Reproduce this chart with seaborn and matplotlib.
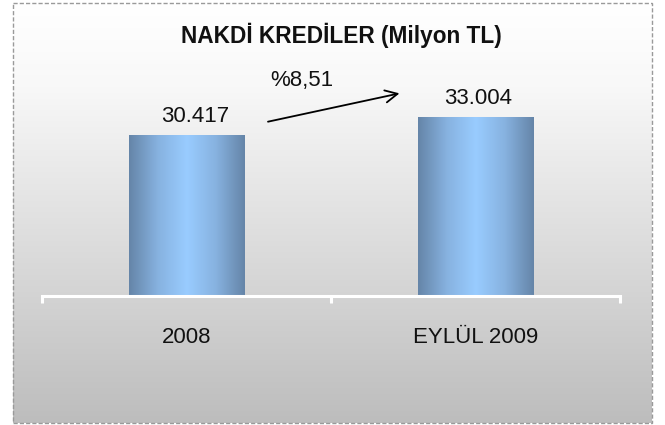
#%%
# Packages
import numpy as np
import pandas as pd
import matplotlib
matplotlib.use("Agg")
import matplotlib.pyplot as plt
import seaborn as sns
from matplotlib.colors import LinearSegmentedColormap
from matplotlib.patches import Rectangle

sns.set_style("white")
plt.rcParams['font.family'] = ['Liberation Sans', 'DejaVu Sans']

#%%
# Data
periods = ["2008", "EYLÜL 2009"]
credits = [30417, 33004]
value_labels = ["30.417", "33.004"]
growth_label = "%8,51"
title = "NAKDİ KREDİLER (Milyon TL)"

df = pd.DataFrame({"period": periods, "credit": credits})

#%%
# Figure + gradient background
fig = plt.figure(figsize=(6.65, 4.25), dpi=100)
W, H = 665, 425

bg = fig.add_axes([0, 0, 1, 1], zorder=0)
bg.set_xlim(0, W)
bg.set_ylim(H, 0)
bg.axis("off")
grad = np.linspace(0, 1, 256).reshape(-1, 1)
bg_cmap = LinearSegmentedColormap.from_list(
    "bg", [(0, "#ffffff"), (0.2, "#f8f8f8"), (1, "#bdbdbd")])
bg.imshow(grad, cmap=bg_cmap, aspect="auto", extent=[13, 652, 423, 3])
bg.add_patch(Rectangle((13, 3), 639, 420, fill=False, edgecolor="#9a9a9a",
                       linestyle=(0, (3, 1.5)), linewidth=1.0))

#%%
# Bars
ax = fig.add_axes([42 / W, (H - 296) / H, 578 / W, 276 / H], zorder=1)
ax.patch.set_alpha(0)
sns.barplot(data=df, x="period", y="credit", ax=ax, width=0.40,
            color="#88b0d8", saturation=1)
ax.set_xlim(-0.5, 1.5)
ax.set_ylim(7278, 46945)

bar_cmap = LinearSegmentedColormap.from_list(
    "bar", ["#6585a8", "#87b2e0", "#99ccff", "#87b2e0", "#6585a8"])
hgrad = np.linspace(0, 1, 256).reshape(1, -1)
for p in ax.patches:
    x0, w, h = p.get_x(), p.get_width(), p.get_height()
    im = ax.imshow(hgrad, cmap=bar_cmap, aspect="auto",
                   extent=[x0, x0 + w, ax.get_ylim()[0], h], zorder=2)
    im.set_clip_path(p)
    p.set_edgecolor("none")
ax.set_xlim(-0.5, 1.5)
ax.set_ylim(7278, 46945)

# value labels
for i, (v, lab) in enumerate(zip(credits, value_labels)):
    ax.annotate(lab, (i + (0.03 if i == 0 else 0.01), v), xytext=(0, 6),
                textcoords="offset points", ha="center", va="bottom",
                fontsize=16, color="#111111")

# growth arrow
ax.annotate("", xy=(0.737, 36400), xytext=(0.282, 32330),
            arrowprops=dict(arrowstyle="->", color="black", lw=1.3,
                            mutation_scale=22, shrinkA=0, shrinkB=0))
ax.text(0.40, 38300, growth_label, ha="center", va="center", fontsize=16,
        color="#111111")

#%%
# Axes styling
for s in ["top", "right", "left"]:
    ax.spines[s].set_visible(False)
ax.spines["bottom"].set_color("white")
ax.spines["bottom"].set_linewidth(2.2)
ax.set_yticks([])
ax.set_xlabel("")
ax.set_ylabel("")
ax.set_xticks([0, 1])
ax.set_xticklabels(periods, fontsize=16, color="#111111")
ax.tick_params(axis="x", which="major", bottom=False, length=0, pad=22)
ax.set_xticks([-0.5, 0.5, 1.5], minor=True)
ax.tick_params(axis="x", which="minor", bottom=True, length=5, width=2.2,
               color="white", direction="out")

fig.text(341 / W, (H - 35) / H, title, ha="center", va="center",
         fontsize=16.3, fontweight="bold", color="#111111")

fig.savefig("out.png", dpi=100)
